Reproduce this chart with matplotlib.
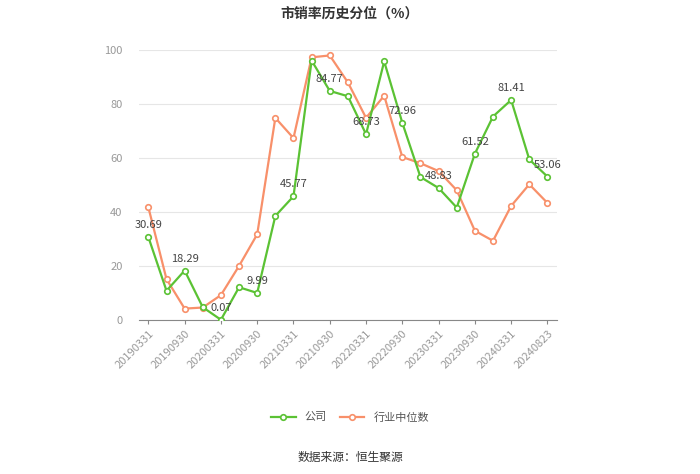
import matplotlib.pyplot as plt
import numpy as np

plt.rcParams['font.family'] = ['Noto Sans CJK SC', 'DejaVu Sans']

dates = ["20190331", "20190630", "20190930", "20191231", "20200331", "20200630",
         "20200930", "20201231", "20210331", "20210630", "20210930", "20211231",
         "20220331", "20220630", "20220930", "20221231", "20230331", "20230630",
         "20230930", "20231231", "20240331", "20240630", "20240823"]
company = [30.69, 10.8, 18.29, 4.7, 0.07, 12.1, 9.99, 38.5, 45.77, 96.0, 84.77, 82.8,
           68.73, 95.7, 72.96, 52.9, 48.83, 41.6, 61.52, 75.3, 81.41, 59.4, 53.06]
industry = [41.7, 15.1, 4.2, 4.6, 9.2, 20.0, 31.7, 74.8, 67.3, 97.2, 97.9, 87.9,
            74.8, 83.0, 60.3, 58.0, 55.1, 48.0, 33.0, 29.3, 42.2, 50.2, 43.3]
yticks = [0, 20, 40, 60, 80, 100]

green = "#5bc234"
orange = "#f8906a"

fig = plt.figure(figsize=(7, 4.74), dpi=100)
ax = fig.add_axes([0.199, 0.325, 0.596, 0.57])
x = np.arange(len(dates))

ax.plot(x, company, color=green, lw=1.6, marker="o", ms=4, mfc="white",
        mec=green, mew=1.2, label="公司", zorder=3)
ax.plot(x, industry, color=orange, lw=1.6, marker="o", ms=4, mfc="white",
        mec=orange, mew=1.2, label="行业中位数", zorder=2)

for i in range(0, len(dates), 2):
    ax.annotate(f"{company[i]:.2f}", (x[i], company[i]), xytext=(0, 5),
                textcoords="offset points", ha="center", va="bottom",
                fontsize=8, color="#444444", zorder=4)

ax.set_xlim(-0.5, len(dates) - 0.5)
ax.set_ylim(0, 100)
ax.set_yticks(yticks)
ax.set_xticks(x[::2])
ax.set_xticklabels(dates[::2], rotation=45, ha="right", rotation_mode="anchor")
ax.tick_params(axis="x", colors="#999999", labelsize=8, length=3, pad=3)
ax.tick_params(axis="x", color="#888888")
ax.tick_params(axis="y", colors="#999999", labelsize=8, length=0, pad=12)
ax.grid(axis="y", color="#e6e6e6", lw=0.8)
ax.set_axisbelow(True)
for s in ["top", "right", "left"]:
    ax.spines[s].set_visible(False)
ax.spines["bottom"].set_color("#888888")

fig.text(0.5, 0.972, "市销率历史分位（%）", ha="center", va="center",
         fontsize=10, fontweight="bold", color="#333333")
fig.legend(loc="center", bbox_to_anchor=(0.5, 0.12), ncol=2, frameon=False,
           fontsize=8, labelcolor="#555555", handlelength=2.2, columnspacing=1.2)
fig.text(0.5, 0.034, "数据来源：恒生聚源", ha="center", va="center",
         fontsize=8.5, color="#333333")

fig.savefig("out.png", dpi=100)
